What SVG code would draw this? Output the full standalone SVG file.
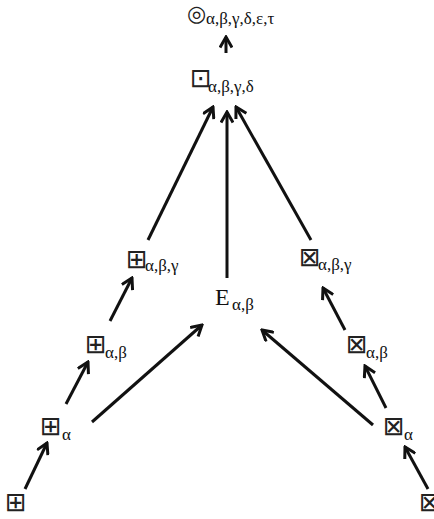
<svg xmlns="http://www.w3.org/2000/svg" width="434" height="519" viewBox="0 0 434 519">
<style>
.sym{font-family:"DejaVu Sans",sans-serif;font-size:26px;fill:#222}
.sub{font-family:"Liberation Serif",serif;font-size:17px;fill:#111}
.big{font-family:"Liberation Serif",serif;font-size:24px;fill:#111}
.arr{stroke:#111;stroke-width:3;fill:none;marker-end:url(#ah)}
</style>
<defs>
<marker id="ah" viewBox="0 0 14 14" refX="12" refY="7" markerWidth="14" markerHeight="14" markerUnits="userSpaceOnUse" orient="auto">
<path d="M1.5,1 L12,7 L1.5,13" stroke="#111" stroke-width="3" fill="none"/>
</marker>
</defs>
<rect width="434" height="519" fill="#fff"/>
<g id="connectors">
<line class="arr" x1="226" y1="53" x2="226" y2="37"/>
<line class="arr" x1="148" y1="240" x2="213" y2="107"/>
<line class="arr" x1="227" y1="278" x2="227" y2="112"/>
<line class="arr" x1="311" y1="240" x2="236" y2="107"/>
<line class="arr" x1="110" y1="321" x2="132" y2="278"/>
<line class="arr" x1="66" y1="404" x2="88" y2="362"/>
<line class="arr" x1="25" y1="489" x2="47" y2="443"/>
<line class="arr" x1="92" y1="422" x2="202" y2="325"/>
<line class="arr" x1="345" y1="330" x2="323" y2="288"/>
<line class="arr" x1="386" y1="408" x2="365" y2="366"/>
<line class="arr" x1="428" y1="489" x2="405" y2="447"/>
<line class="arr" x1="373" y1="425" x2="262" y2="330"/>
</g>
<g id="top"><text class="sym" x="187" y="21" style="font-size:22px">◎</text><text class="sub" x="206" y="24">α,β,γ,δ,ε,τ</text></g>
<g id="dot"><text class="sym" x="190" y="87">⊡</text><text class="sub" x="208" y="92">α,β,γ,δ</text></g>
<g id="plus3"><text class="sym" x="126" y="268">⊞</text><text class="sub" x="145" y="271">α,β,γ</text></g>
<g id="e"><text class="big" x="215" y="305">E</text><text class="sub" x="232" y="310">α,β</text></g>
<g id="times3"><text class="sym" x="299" y="266">⊠</text><text class="sub" x="318" y="270">α,β,γ</text></g>
<g id="plus2"><text class="sym" x="85" y="353">⊞</text><text class="sub" x="105" y="358">α,β</text></g>
<g id="times2"><text class="sym" x="346" y="353">⊠</text><text class="sub" x="366" y="358">α,β</text></g>
<g id="plus1"><text class="sym" x="40" y="435">⊞</text><text class="sub" x="62" y="440">α</text></g>
<g id="times1"><text class="sym" x="383" y="435">⊠</text><text class="sub" x="404" y="440">α</text></g>
<g id="plus0"><text class="sym" x="5" y="511">⊞</text></g>
<g id="times0"><text class="sym" x="419" y="511">⊠</text></g>
</svg>
